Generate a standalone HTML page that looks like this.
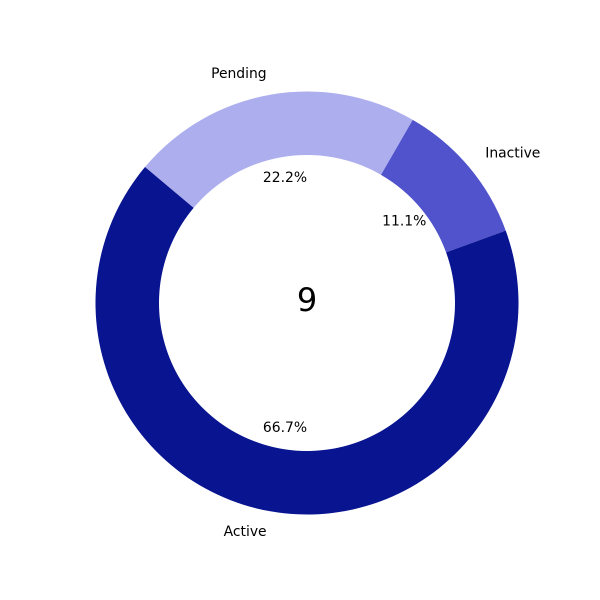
<!DOCTYPE html>
<html><head><meta charset="utf-8"><style>body{margin:0;background:#fff}svg{display:block;font-family:"DejaVu Sans","Liberation Sans",sans-serif}</style></head>
<body>
<svg id="chart" width="600" height="600">
<text x="307" y="300" font-size="32" text-anchor="middle" dominant-baseline="central">9</text>
</svg>
<script>
const categories = ["Active", "Inactive", "Pending"];
const values = [6, 1, 2];
const colors = ["#081490", "#5053cc", "#adaeee"];
const cx = 307, cy = 303, R = 211.5, r = 148, startAngle = 140;
const svg = document.getElementById('chart');
const NS = 'http://www.w3.org/2000/svg';
const total = values.reduce((a, b) => a + b, 0);
let a0 = startAngle;
function pt(ang, rad) { const t = ang * Math.PI / 180; return [cx + rad * Math.cos(t), cy - rad * Math.sin(t)]; }
values.forEach((v, i) => {
  const sweep = v / total * 360, a1 = a0 + sweep;
  const [x1, y1] = pt(a0, R), [x2, y2] = pt(a1, R), [x3, y3] = pt(a1, r), [x4, y4] = pt(a0, r);
  const large = sweep > 180 ? 1 : 0;
  const p = document.createElementNS(NS, 'path');
  p.setAttribute('d', `M${x1},${y1} A${R},${R} 0 ${large} 0 ${x2},${y2} L${x3},${y3} A${r},${r} 0 ${large} 1 ${x4},${y4} Z`);
  p.setAttribute('fill', colors[i]);
  
  
  svg.insertBefore(p, svg.firstChild);
  const mid = (a0 + a1) / 2;
  const [lx, ly] = pt(mid, R * 1.1);
  const lt = document.createElementNS(NS, 'text');
  lt.setAttribute('x', lx); lt.setAttribute('y', ly);
  lt.setAttribute('font-size', '13.9');
  lt.setAttribute('text-anchor', Math.cos(mid * Math.PI / 180) < 0 ? 'end' : 'start');
  lt.setAttribute('dominant-baseline', 'central');
  lt.textContent = categories[i];
  
  
  svg.appendChild(lt);
  const [px, py] = pt(mid, R * 0.6);
  const pc = document.createElementNS(NS, 'text');
  pc.setAttribute('x', px); pc.setAttribute('y', py);
  pc.setAttribute('font-size', '13.9');
  pc.setAttribute('text-anchor', 'middle');
  pc.setAttribute('dominant-baseline', 'central');
  pc.textContent = (v / total * 100).toFixed(1) + '%';
  
  
  svg.appendChild(pc);
  a0 = a1;
});
</script>
</body></html>
